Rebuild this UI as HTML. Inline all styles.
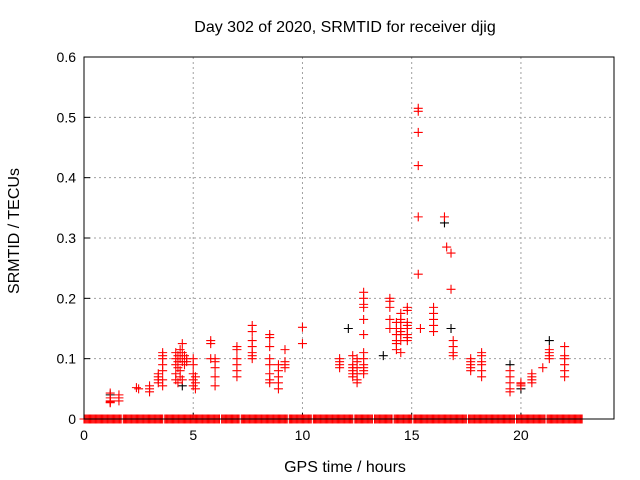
<!DOCTYPE html>
<html><head><meta charset="utf-8"><style>
body{margin:0;background:#fff}
svg{display:block;font-family:"Liberation Sans",sans-serif}
</style></head><body>
<svg id="c" width="640" height="480">
<text x="345" y="32" text-anchor="middle" font-size="16">Day 302 of 2020, SRMTID for receiver djig</text>
<text x="345" y="472" text-anchor="middle" font-size="16">GPS time / hours</text>
<text transform="translate(19,231) rotate(-90)" text-anchor="middle" font-size="16">SRMTID / TECUs</text>
<g id="grid"></g>
<g id="ticks"></g>
<g id="pts"></g>
<rect x="84" y="57" width="530" height="362" fill="none" stroke="#000" stroke-width="1"/>
</svg>
<script>
const xTicks=[0,5,10,15,20];
const yTicks=[0,0.1,0.2,0.3,0.4,0.5,0.6];
const yTickLabels=["0","0.1","0.2","0.3","0.4","0.5","0.6"];
const redTimes=[1.2,1.2,1.2,1.2,1.2,1.6,1.6,1.6,2.4,2.5,3.0,3.0,3.0,
3.4,3.4,3.4,3.4,3.6,3.6,3.6,3.6,3.6,3.6,3.6,
4.2,4.2,4.2,4.2,4.2,4.3,4.3,4.3,4.3,4.4,4.4,4.4,4.4,4.5,4.5,4.5,4.5,4.6,4.6,4.7,4.7,
5.0,5.0,5.0,5.0,5.0,5.1,5.1,5.1,
5.8,5.8,5.8,6.0,6.0,6.0,6.0,6.0,
7.0,7.0,7.0,7.0,7.0,7.0,7.7,7.7,7.7,7.7,7.7,7.7,7.7,
8.5,8.5,8.5,8.5,8.5,8.5,8.5,8.5,8.9,8.9,8.9,8.9,8.9,9.2,9.2,9.2,9.2,10.0,10.0,
11.7,11.7,11.7,11.7,12.3,12.3,12.3,12.3,12.3,12.3,12.5,12.5,12.5,12.5,12.5,12.5,
12.8,12.8,12.8,12.8,12.8,12.8,12.8,12.8,12.8,12.8,12.8,12.8,
14.0,14.0,14.0,14.0,14.0,14.3,14.3,14.3,14.3,14.3,14.3,
14.5,14.5,14.5,14.5,14.5,14.5,14.5,14.5,14.8,14.8,14.8,14.8,14.8,14.8,14.8,14.8,
15.3,15.3,15.3,15.3,15.3,15.3,15.4,16.0,16.0,16.0,16.0,16.0,16.5,16.6,
16.8,16.8,16.9,16.9,16.9,16.9,17.7,17.7,17.7,17.7,17.7,18.2,18.2,18.2,18.2,18.2,18.2,
19.5,19.5,19.5,19.5,19.5,20.0,20.0,20.0,20.5,20.5,20.5,20.5,21.0,21.3,21.3,21.3,21.3,
22.0,22.0,22.0,22.0,22.0,22.0];
const redValues=[0.043,0.035,0.03,0.028,0.027,0.04,0.035,0.03,0.052,0.05,0.055,0.05,0.045,
0.075,0.07,0.065,0.06,0.11,0.105,0.1,0.09,0.08,0.065,0.055,
0.11,0.1,0.09,0.075,0.065,0.105,0.095,0.085,0.06,0.115,0.1,0.08,0.07,0.125,0.11,0.095,0.065,0.105,0.09,0.1,0.095,
0.1,0.09,0.075,0.065,0.055,0.07,0.06,0.05,
0.13,0.125,0.1,0.1,0.095,0.085,0.07,0.055,
0.12,0.115,0.1,0.09,0.08,0.07,0.155,0.145,0.13,0.12,0.11,0.105,0.1,
0.14,0.135,0.12,0.1,0.09,0.075,0.065,0.06,0.09,0.08,0.07,0.06,0.05,0.115,0.095,0.09,0.085,0.152,0.125,
0.1,0.095,0.09,0.085,0.105,0.09,0.085,0.08,0.075,0.07,0.1,0.095,0.085,0.075,0.065,0.06,
0.21,0.2,0.19,0.185,0.165,0.14,0.11,0.1,0.09,0.085,0.08,0.075,
0.2,0.195,0.185,0.165,0.15,0.16,0.15,0.14,0.13,0.125,0.115,
0.175,0.165,0.16,0.15,0.145,0.14,0.13,0.11,0.185,0.18,0.16,0.155,0.15,0.14,0.135,0.13,
0.515,0.51,0.475,0.42,0.335,0.24,0.15,0.185,0.175,0.165,0.155,0.145,0.335,0.285,
0.275,0.215,0.13,0.12,0.11,0.105,0.1,0.095,0.09,0.085,0.08,0.11,0.105,0.095,0.09,0.08,0.07,
0.08,0.07,0.06,0.05,0.045,0.06,0.058,0.055,0.075,0.07,0.065,0.06,0.085,0.115,0.11,0.105,0.1,
0.12,0.105,0.1,0.09,0.08,0.07];
const blackTimes=[1.2,4.5,12.1,13.7,16.5,16.8,19.5,20.0,21.3];
const blackValues=[0.04,0.055,0.15,0.105,0.325,0.15,0.09,0.05,0.13];
const zeroRunStarts=[0.0,1.8,3.7,6.3,7.2,9.4,10.5,12.4,13.3,14.2,15.1,17.6,19.8,21.2];
const zeroRunEnds=[1.7,3.6,6.2,7.1,9.3,10.4,12.3,13.2,14.1,15.0,17.5,19.7,21.1,22.8];
const XMAX=24.26,YMAX=0.6,L=84,R=614,T=57,B=419;
const sx=t=>L+t/XMAX*(R-L), sy=v=>B-v/YMAX*(B-T);
const NS="http://www.w3.org/2000/svg";
function mk(tag,parent,attrs){const e=document.createElementNS(NS,tag);for(const k in attrs)e.setAttribute(k,attrs[k]);parent.appendChild(e);return e;}
const grid=document.getElementById('grid'),ticks=document.getElementById('ticks'),pts=document.getElementById('pts');
xTicks.forEach(t=>{const x=sx(t);
 if(t>0){const g=mk('line',grid,{x1:x,x2:x,y1:T,y2:B,stroke:'#a0a0a0','stroke-dasharray':'2,3'});}
 const tl=mk('line',ticks,{x1:x,x2:x,y1:B,y2:B-6,stroke:'#000'});
 const tx=mk('text',ticks,{x:x,y:B+21,'text-anchor':'middle','font-size':14});tx.textContent=String(t);
 });
yTicks.forEach((v,i)=>{const y=sy(v);
 if(v>0&&v<YMAX){const g=mk('line',grid,{x1:L,x2:R,y1:y,y2:y,stroke:'#a0a0a0','stroke-dasharray':'2,3'});}
 const tl=mk('line',ticks,{x1:L,x2:L+6,y1:y,y2:y,stroke:'#000'});
 const tx=mk('text',ticks,{x:L-8,y:y+5,'text-anchor':'end','font-size':14});tx.textContent=yTickLabels[i];
 });
function plus(t,v,col,name){const x=sx(t),y=sy(v);
 const p=mk('path',pts,{d:`M${x-4.5},${y}H${x+4.5}M${x},${y-4.5}V${y+4.5}`,stroke:col,'stroke-width':1.1,fill:'none'});
 }
blackTimes.forEach((t,i)=>plus(t,blackValues[i],'#000','black-point'));
zeroRunStarts.forEach((s,i)=>{for(let t=s;t<=zeroRunEnds[i]+1e-9;t+=0.05)plus(t,0,'#f00','zero-point');});
redTimes.forEach((t,i)=>plus(t,redValues[i],'#f00','red-point'));
</script>
</body></html>
